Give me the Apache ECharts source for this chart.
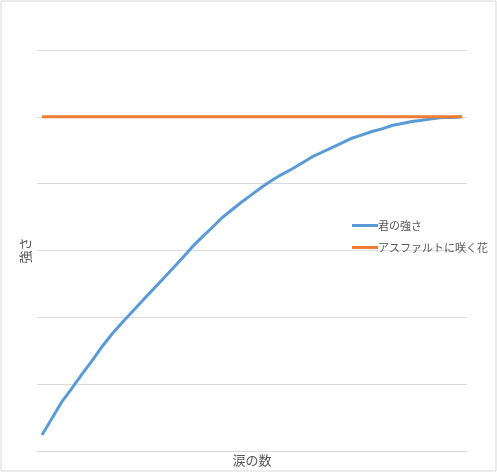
<!DOCTYPE html>
<html>
<head>
<meta charset="utf-8">
<script src="https://cdn.jsdelivr.net/npm/echarts@6/dist/echarts.min.js"></script>
<style>
html,body{margin:0;padding:0;background:#fff;}
#c{width:497px;height:472px;}
</style>
</head>
<body>
<div id="c"></div>
<script>
const categories = Array.from({length: 43}, (_, i) => String(i + 1));
const strengthValues = [0.24,0.49,0.74,0.94,1.15,1.35,1.56,1.75,1.92,2.08,2.24,2.40,2.56,2.72,2.88,3.05,3.20,3.34,3.49,3.61,3.73,3.84,3.95,4.05,4.14,4.22,4.31,4.40,4.47,4.54,4.61,4.68,4.73,4.78,4.82,4.87,4.90,4.93,4.95,4.97,4.99,4.99,5.00];
const flowerValues = categories.map(() => 5);
const seriesNames = ['君の強さ', 'アスファルトに咲く花'];

const font = '"Noto Sans CJK JP", "Noto Sans", sans-serif';
const chart = echarts.init(document.getElementById('c'));
chart.setOption({
  animation: false,
  textStyle: {fontFamily: font},
  graphic: [{
    type: 'rect', left: 0.5, top: 0.5, z: -1,
    shape: {width: 495, height: 470},
    style: {fill: '#fff', stroke: '#d9d9d9', lineWidth: 1}
  }],
  grid: {left: 37, right: 30, top: 50, bottom: 21, outerBoundsMode: 'none', containLabel: false},
  legend: {
    orient: 'vertical', left: 347, top: 215,
    itemWidth: 26, itemHeight: 3, itemGap: 11,
    icon: 'rect',
    textStyle: {fontFamily: font, fontSize: 11, color: '#595959', padding: [0,0,0,-5]},
    data: seriesNames
  },
  xAxis: {
    type: 'category', data: categories, boundaryGap: true,
    name: '涙の数', nameLocation: 'middle', nameGap: 3,
    nameTextStyle: {fontFamily: font, fontSize: 13, color: '#595959', verticalAlign: 'top'},
    axisLine: {show: false}, axisTick: {show: false}, axisLabel: {show: false}
  },
  yAxis: {
    type: 'value', min: 0, max: 6, interval: 1,
    name: '強さ', nameLocation: 'middle', nameGap: 5, nameRotate: 90,
    nameTextStyle: {fontFamily: font, fontSize: 13, color: '#595959'},
    axisLine: {show: false}, axisTick: {show: false}, axisLabel: {show: false},
    splitLine: {lineStyle: {color: '#d9d9d9', width: 1}}
  },
  series: [
    {name: seriesNames[0], type: 'line', data: strengthValues, showSymbol: false,
     color: '#5B9BD5', lineStyle: {width: 3, color: '#5B9BD5'}},
    {name: seriesNames[1], type: 'line', data: flowerValues, showSymbol: false,
     color: '#ED7D31', lineStyle: {width: 3, color: '#ED7D31'}}
  ]
});
</script>
</body>
</html>
